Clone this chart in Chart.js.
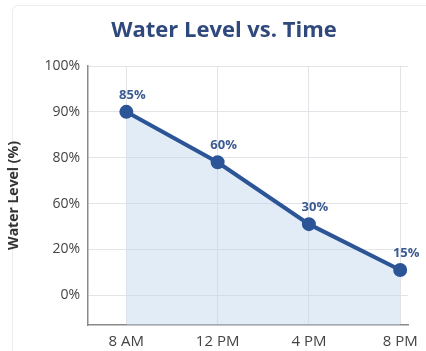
<!DOCTYPE html>
<html>
<head>
<meta charset="utf-8">
<script src="https://cdn.jsdelivr.net/npm/chart.js@4"></script>
<style>
  body { margin: 0; background: #fff; }
  #card {
    position: absolute; left: 12px; top: 5px; width: 420px; height: 352px;
    border: 1px solid #ececec; border-radius: 6px; box-sizing: border-box;
  }
  #wrap { position: relative; width: 426px; height: 351px; }
</style>
</head>
<body>
<div id="card"></div>
<div id="wrap"><canvas id="levelChart" width="426" height="351"></canvas></div>
<script>
// times of day (hours) and their labels
const timeHours = [8, 12, 16, 20];
const timeLabels = ['8 AM', '12 PM', '4 PM', '8 PM'];
// tick labels on the y axis (not evenly spaced in value)
const yTickValues = [0, 20, 60, 80, 90, 100];
// water level as read against the y axis
const levelRead = [90, 78, 42, 11];
// printed labels above each point
const levelLabels = ['85%', '60%', '30%', '15%'];
const chartTitle = 'Water Level vs. Time';

// map a percentage onto the evenly spaced tick index
const toAxis = (v) => {
    for (let i = 0; i < yTickValues.length - 1; i++) {
        const a = yTickValues[i], b = yTickValues[i + 1];
        if (v >= a && v <= b) return i + (v - a) / (b - a);
    }
    return v < yTickValues[0] ? 0 : yTickValues.length - 1;
};

const blue = '#2b5597';
const font = '"Open Sans", sans-serif';

// title and value labels drawn by hand
const extras = {
    id: 'extras',
    afterDatasetsDraw(chart) {
        const ctx = chart.ctx;
        const meta = chart.getDatasetMeta(0);
        ctx.save();
        ctx.textAlign = 'center';
        ctx.textBaseline = 'middle';
        ctx.font = 'bold 22px ' + font;
        ctx.fillStyle = '#30497c';
        ctx.fillText(chartTitle, 224, 31);
        ctx.font = 'bold 13px ' + font;
        ctx.fillStyle = '#3b5b92';
        meta.data.forEach((pt, i) => {
            ctx.fillText(levelLabels[i], pt.x + 6, pt.y - 17);
        });
        ctx.restore();
    }
};

const ctx = document.getElementById('levelChart');
new Chart(ctx, {
    type: 'line',
    data: {
        datasets: [{
            data: timeHours.map((h, i) => ({ x: h, y: toAxis(levelRead[i]) })),
            borderColor: blue,
            borderWidth: 4,
            pointRadius: 5,
            pointBackgroundColor: blue,
            pointBorderColor: blue,
            fill: 'start',
            backgroundColor: 'rgba(190, 212, 238, 0.45)',
            tension: 0
        }]
    },
    plugins: [extras],
    options: {
        responsive: false,
        animation: false,
        layout: { padding: { left: 6, right: 13, top: 66, bottom: 0 } },
        plugins: {
            legend: { display: false },
            tooltip: { enabled: false },
            title: { display: false }
        },
        scales: {
            x: {
                type: 'linear',
                min: 6.32,
                max: 20.35,
                afterBuildTicks: (s) => { s.ticks = timeHours.map(h => ({ value: h })); },
                afterFit: (s) => { s.height = 26; },
                ticks: {
                    callback: (v) => timeLabels[timeHours.indexOf(v)],
                    color: '#444',
                    font: { size: 15, family: font },
                    padding: 8,
                    maxRotation: 0
                },
                grid: { color: '#e2e4e8', drawTicks: false },
                border: { color: '#8a8a8a', width: 1.5 }
            },
            y: {
                type: 'linear',
                min: -0.65,
                max: 5,
                afterBuildTicks: (s) => { s.ticks = yTickValues.map((v, i) => ({ value: i })); },
                afterFit: (s) => { s.width = 82; },
                ticks: {
                    callback: (v) => yTickValues[v] + '%',
                    color: '#444',
                    font: { size: 14, family: font },
                    padding: 8
                },
                grid: { color: '#e2e4e8', drawTicks: false },
                border: { color: '#8a8a8a', width: 1.5 },
                title: {
                    display: true,
                    text: 'Water Level (%)',
                    color: '#333',
                    font: { size: 14, weight: 'bold', family: font },
                    padding: { top: 0, bottom: 0 }
                }
            }
        }
    }
});
</script>
</body>
</html>
